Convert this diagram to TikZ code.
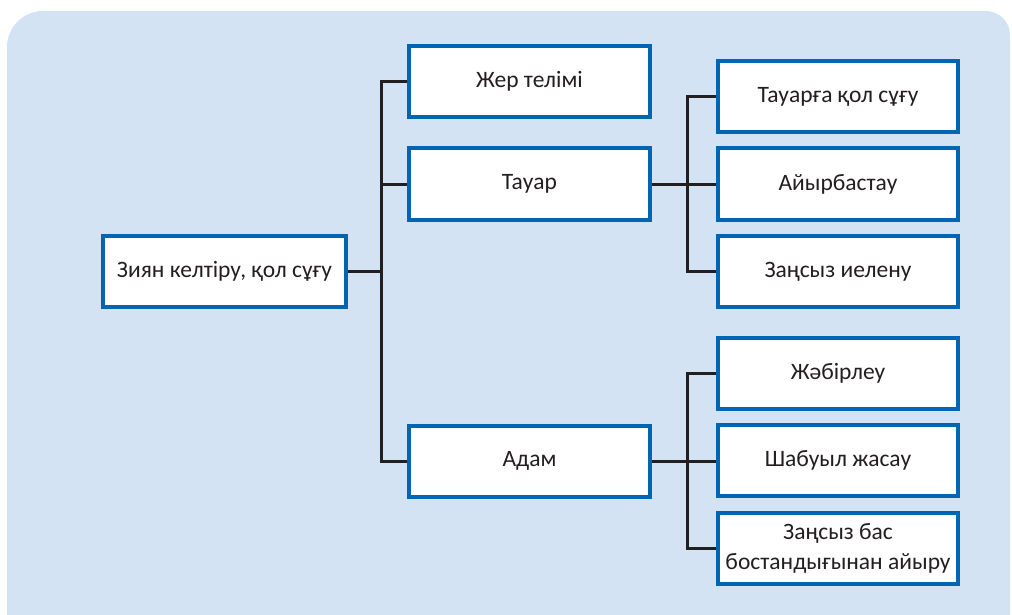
\documentclass[tikz,border=0pt]{standalone}
\usepackage{fontspec}
\setmainfont{Carlito}
\definecolor{bgblue}{HTML}{D4E3F3}
\definecolor{boxblue}{HTML}{0066B3}
\definecolor{linegray}{HTML}{231F20}
\begin{document}
\begin{tikzpicture}[x=1pt,y=-1pt,
  box/.style={draw=boxblue,line width=4pt,fill=white,rectangle,minimum height=71pt,inner sep=0pt,align=center,font=\fontsize{23.5}{29.5}\selectfont,text=linegray},
  rootbox/.style={box,minimum width=243pt},
  lonebox/.style={box,minimum width=241pt},
  ltwobox/.style={box,minimum width=240pt},
  conn/.style={draw=linegray,line width=3pt,line join=miter}]
\useasboundingbox (0,0) rectangle (1012,615);
\fill[bgblue] (7,640) [rounded corners=36pt] -- (7,11) [rounded corners=24pt] -- (1010,11) [sharp corners] -- (1010,640) -- cycle;
\node[rootbox] (root) at (224.5,271) {Зиян келтіру, қол сұғу};
\node[lonebox] (l1a) at (529.5,81.5) {Жер телімі};
\node[lonebox] (l1b) at (529.5,184) {Тауар};
\node[lonebox] (l1c) at (529.5,461) {Адам};
\node[ltwobox] (t1) at (838,96.5) {Тауарға қол сұғу};
\node[ltwobox] (t2) at (838,184) {Айырбастау};
\node[ltwobox] (t3) at (838,271.5) {Заңсыз иелену};
\node[ltwobox] (a1) at (838,373.5) {Жәбірлеу};
\node[ltwobox] (a2) at (838,460.5) {Шабуыл жасау};
\node[ltwobox] (a3) at (838,548.5) {Заңсыз бас\\бостандығынан айыру};
\draw[conn] (root.east) -- ++(33,0);
\draw[conn] (l1a.west) -- ++(-26,0) |- (l1c.west);
\draw[conn] (l1b.west) -- ++(-26,0);
\draw[conn] (l1b.east) -- ++(64,0);
\draw[conn] (t1.west) -- ++(-29,0) |- (t3.west);
\draw[conn] (l1c.east) -- ++(64,0);
\draw[conn] (a1.west) -- ++(-29,0) |- (a3.west);
\end{tikzpicture}
\end{document}
